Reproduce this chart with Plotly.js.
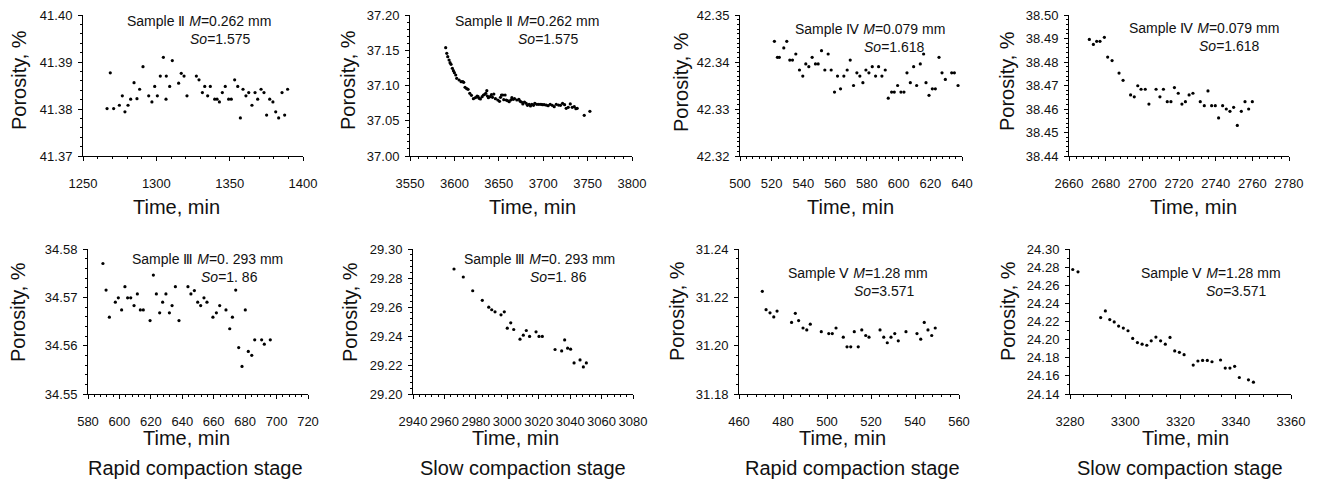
<!DOCTYPE html>
<html>
<head>
<meta charset="utf-8">
<script src="https://cdn.plot.ly/plotly-3.0.1.min.js"></script>
<style>html,body{margin:0;padding:0;background:#fff;}#chart{width:1320px;height:481px;}</style>
</head>
<body>
<div id="chart"></div>
<script>
// ---------- Data ----------
// Panel 1: Sample II, rapid compaction stage
var p1Time = [1266.4,1268.6,1270.9,1274.8,1276.8,1278.6,1280.7,1282.5,1284.8,1286.8,1288.6,1290.9,1294.8,1297.0,1298.9,1300.7,1302.7,1304.8,1306.6,1306.8,1309.1,1310.9,1315.2,1317.0,1318.9,1320.9,1327.3,1329.1,1331.4,1333.0,1335.0,1336.8,1339.8,1341.4,1343.0,1345.0,1347.0,1349.3,1351.1,1353.4,1355.5,1357.3,1359.1,1361.1,1363.0,1365.2,1367.3,1369.1,1371.4,1373.4,1375.2,1377.3,1379.5,1381.4,1383.4,1385.7,1387.5,1389.5];
var p1Porosity = [41.3801,41.3877,41.3801,41.3808,41.3828,41.3794,41.3808,41.3821,41.3856,41.3822,41.3842,41.3890,41.3828,41.3815,41.3848,41.3828,41.3870,41.3910,41.3821,41.3870,41.3848,41.3903,41.3855,41.3876,41.3870,41.3828,41.3870,41.3862,41.3835,41.3848,41.3828,41.3848,41.3821,41.3821,41.3815,41.3835,41.3848,41.3821,41.3821,41.3862,41.3848,41.3781,41.3842,41.3828,41.3835,41.3808,41.3835,41.3821,41.3842,41.3835,41.3787,41.3821,41.3815,41.3794,41.3781,41.3835,41.3787,41.3842];

// Panel 2: Sample II, slow compaction stage
var p2Time = [3590.2,3591.4,3592.5,3594.0,3595.1,3596.2,3597.7,3598.9,3600.0,3601.5,3602.6,3605.3,3607.5,3609.4,3610.5,3612.0,3613.9,3615.4,3617.3,3619.2,3621.4,3623.7,3625.6,3626.7,3627.8,3629.3,3631.2,3632.7,3634.2,3635.3,3636.5,3637.2,3638.3,3640.2,3641.7,3642.9,3644.4,3646.2,3648.9,3650.8,3651.9,3653.0,3654.5,3655.6,3657.1,3658.3,3659.8,3661.7,3663.5,3664.7,3666.2,3667.7,3670.3,3672.6,3674.1,3675.6,3677.1,3678.9,3680.8,3682.3,3684.2,3685.7,3687.2,3689.1,3690.6,3692.9,3695.1,3697.4,3699.2,3701.1,3703.4,3705.6,3707.9,3710.2,3712.4,3714.7,3717.3,3719.5,3721.8,3724.1,3725.9,3728.2,3730.5,3732.7,3735.0,3736.8,3738.3,3746.2,3752.6];
var p2Porosity = [37.1537,37.1456,37.1409,37.1362,37.1324,37.1300,37.1243,37.1210,37.1182,37.1149,37.1102,37.1078,37.1054,37.1054,37.1045,37.0974,37.0955,37.0946,37.0889,37.0861,37.0813,37.0827,37.0851,37.0842,37.0818,37.0809,37.0842,37.0865,37.0875,37.0889,37.0927,37.0851,37.0827,37.0842,37.0870,37.0832,37.0879,37.0813,37.0794,37.0775,37.0832,37.0865,37.0865,37.0799,37.0865,37.0794,37.0785,37.0771,37.0794,37.0827,37.0804,37.0813,37.0794,37.0804,37.0775,37.0766,37.0738,37.0766,37.0747,37.0719,37.0733,37.0709,37.0733,37.0719,37.0747,37.0733,37.0733,37.0733,37.0728,37.0728,37.0723,37.0714,37.0733,37.0719,37.0700,37.0733,37.0723,37.0719,37.0747,37.0728,37.0676,37.0690,37.0738,37.0690,37.0700,37.0671,37.0676,37.0577,37.0634];

// Panel 3: Sample IV, rapid compaction stage
var p3Time = [521.7,523.6,524.8,527.6,529.5,531.4,533.1,535.2,537.5,539.6,541.5,543.4,545.5,547.6,549.3,551.4,553.5,555.6,557.5,559.6,561.5,563.4,565.5,567.6,569.5,571.6,573.7,575.6,577.5,579.4,581.3,583.4,585.5,587.4,589.5,591.6,593.5,595.6,597.3,599.4,601.5,603.4,605.3,607.4,609.5,611.4,613.7,615.8,617.3,619.2,621.3,623.2,625.5,627.4,629.5,633.5,635.2,637.5];
var p3Porosity = [42.3444,42.3410,42.3410,42.3430,42.3444,42.3404,42.3404,42.3417,42.3383,42.3370,42.3396,42.3390,42.3410,42.3396,42.3396,42.3424,42.3383,42.3417,42.3383,42.3336,42.3370,42.3343,42.3370,42.3383,42.3404,42.3350,42.3377,42.3370,42.3356,42.3383,42.3377,42.3390,42.3370,42.3390,42.3370,42.3383,42.3323,42.3336,42.3336,42.3350,42.3336,42.3336,42.3377,42.3356,42.3390,42.3350,42.3396,42.3417,42.3356,42.3329,42.3343,42.3343,42.3410,42.3377,42.3363,42.3377,42.3377,42.3350];

// Panel 4: Sample IV, slow compaction stage
var p4Time = [2671.1,2673.3,2675.1,2676.9,2679.3,2681.1,2683.5,2687.3,2689.5,2693.6,2695.6,2697.5,2699.3,2701.6,2703.6,2707.5,2709.6,2711.5,2713.6,2715.6,2717.5,2719.6,2721.6,2723.5,2725.5,2727.6,2731.6,2733.8,2735.8,2737.8,2739.8,2741.6,2743.8,2745.8,2747.8,2749.8,2751.8,2754.0,2756.0,2758.0,2760.0];
var p4Porosity = [38.4896,38.4875,38.4888,38.4888,38.4905,38.4821,38.4806,38.4753,38.4722,38.4660,38.4652,38.4699,38.4684,38.4684,38.4621,38.4684,38.4652,38.4684,38.4631,38.4631,38.4691,38.4667,38.4621,38.4631,38.4660,38.4667,38.4631,38.4614,38.4677,38.4614,38.4614,38.4562,38.4614,38.4600,38.4590,38.4607,38.4530,38.4590,38.4631,38.4600,38.4631];

// Panel 5: Sample III, rapid compaction stage
var p5Time = [589.5,591.5,593.6,597.4,599.3,601.4,603.5,605.2,607.2,609.3,611.4,613.3,615.2,619.5,621.6,623.5,625.6,627.5,629.6,631.8,633.5,635.6,637.9,643.6,645.5,647.7,649.8,651.7,653.8,655.7,659.5,661.7,663.8,667.8,670.2,671.9,674.0,675.9,678.0,680.1,682.0,684.2,686.1,690.5,692.2,696.0];
var p5Porosity = [34.5770,34.5715,34.5659,34.5690,34.5699,34.5674,34.5722,34.5699,34.5699,34.5683,34.5707,34.5674,34.5674,34.5652,34.5746,34.5707,34.5668,34.5690,34.5707,34.5668,34.5683,34.5722,34.5652,34.5722,34.5707,34.5714,34.5690,34.5683,34.5699,34.5690,34.5659,34.5668,34.5683,34.5674,34.5635,34.5659,34.5715,34.5596,34.5557,34.5674,34.5588,34.5580,34.5612,34.5612,34.5603,34.5612];

// Panel 6: Sample III, slow compaction stage
var p6Time = [2966.1,2972.0,2978.0,2984.1,2988.2,2990.1,2992.2,2996.0,2998.1,3000.0,3002.2,3004.1,3008.1,3010.2,3012.1,3014.2,3018.3,3020.2,3022.3,3030.4,3034.6,3036.5,3038.4,3040.3,3042.5,3046.3,3048.4,3050.3];
var p6Porosity = [29.2862,29.2807,29.2712,29.2646,29.2599,29.2581,29.2567,29.2546,29.2567,29.2454,29.2491,29.2445,29.2378,29.2406,29.2438,29.2397,29.2429,29.2397,29.2397,29.2307,29.2297,29.2373,29.2316,29.2309,29.2214,29.2235,29.2187,29.2214];

// Panel 7: Sample V, rapid compaction stage
var p7Time = [470.6,472.3,474.1,475.8,477.3,483.9,485.6,487.1,489.1,490.8,492.4,497.4,500.8,502.4,504.1,507.4,509.1,510.8,512.4,514.2,515.8,517.6,519.1,524.1,525.8,527.4,529.1,530.8,532.4,535.9,540.9,542.6,544.2,545.9,547.6,549.2];
var p7Porosity = [31.2225,31.2149,31.2136,31.2119,31.2143,31.2096,31.2134,31.2104,31.2073,31.2065,31.2089,31.2058,31.2050,31.2050,31.2073,31.2035,31.1995,31.1995,31.2058,31.1995,31.2065,31.2042,31.2035,31.2065,31.2035,31.2012,31.2035,31.2050,31.2020,31.2058,31.2050,31.2027,31.2096,31.2065,31.2042,31.2073];

// Panel 8: Sample V, slow compaction stage
var p8Time = [3281.0,3282.9,3291.1,3292.8,3294.4,3296.0,3297.6,3299.3,3301.0,3302.7,3304.4,3306.1,3307.8,3309.4,3311.1,3312.8,3314.5,3316.2,3317.9,3319.6,3321.3,3324.6,3326.3,3328.0,3329.7,3331.4,3334.5,3336.2,3337.9,3339.6,3341.3,3344.6,3346.4];
var p8Porosity = [24.2774,24.2748,24.2243,24.2317,24.2221,24.2195,24.2150,24.2128,24.2098,24.2013,24.1968,24.1950,24.1938,24.1987,24.2028,24.1987,24.1950,24.2024,24.1875,24.1860,24.1834,24.1719,24.1764,24.1771,24.1771,24.1756,24.1775,24.1686,24.1686,24.1705,24.1582,24.1556,24.1530];

// Axis ranges and ticks
var xRanges = [[1250,1400],[3550,3800],[500,640],[2660,2780],[580,720],[2940,3080],[460,560],[3280,3360]];
var yRanges = [[41.37,41.40],[37.00,37.20],[42.32,42.35],[38.44,38.50],[34.55,34.58],[29.20,29.30],[31.18,31.24],[24.14,24.30]];
var xMajor = [50,50,20,20,20,20,20,20];
var xMinor = [10,10,4,4,4,4,4,5];
var yMajor = [0.01,0.05,0.01,0.01,0.01,0.02,0.02,0.02];
var yMinor = [0.002,0.01,0.001,0.002,0.002,0.004,0.004,0.01];

// Text
var sampleLine1 = ['Sample Ⅱ <i>M</i>=0.262 mm','Sample Ⅱ <i>M</i>=0.262 mm','Sample Ⅳ <i>M</i>=0.079 mm','Sample Ⅳ <i>M</i>=0.079 mm','Sample Ⅲ <i>M</i>=0. 293 mm','Sample Ⅲ <i>M</i>=0. 293 mm','Sample Ⅴ <i>M</i>=1.28 mm','Sample Ⅴ <i>M</i>=1.28 mm'];
var sampleLine2 = ['<i>So</i>=1.575','<i>So</i>=1.575','<i>So</i>=1.618','<i>So</i>=1.618','<i>So</i>=1. 86','<i>So</i>=1. 86','<i>So</i>=3.571','<i>So</i>=3.571'];
var stageLabels = ['Rapid compaction stage','Slow compaction stage','Rapid compaction stage','Slow compaction stage'];
var xTitle = 'Time, min';
var yTitle = 'Porosity, %';

// ---------- Layout geometry (pixels) ----------
var W = 1320, H = 481;
var plotBoxes = [ // [left, right, top, bottom]
  [83,303,15,156],[410,632,15,156],[740,962,15,156],[1069,1289,15,156],
  [88,308,249,394],[413,633,249,394],[739,959,249,394],[1070,1291,249,394]
];
// x centre of line 1, x centre of line 2, y boundary between the two lines
var noteX1 = [199,527,870,1204,208,539,858,1211];
var noteX2 = [220,548,894,1229,229,558,884,1236];
var noteSplit = [30,30,38,37,268,268,282,282];
var xTitlePos = [[176,207],[532,207],[850,207],[1193,207],[186,438],[515,438],[842,438],[1185,438]];
var yTitlePos = [[19,80],[348,80],[681,82],[1007,81],[18,312],[350,312],[677,311],[1008,311]];
var stagePos = [[195,468],[523,468],[852,468],[1180,468]];

var FONT = 'Liberation Sans, Arial, sans-serif';
var INK = '#111';

var times = [p1Time,p2Time,p3Time,p4Time,p5Time,p6Time,p7Time,p8Time];
var pors = [p1Porosity,p2Porosity,p3Porosity,p4Porosity,p5Porosity,p6Porosity,p7Porosity,p8Porosity];

var traces = [];
var layout = {
  width: W, height: H,
  margin: {l:0, r:0, t:0, b:0},
  paper_bgcolor: '#fff', plot_bgcolor: 'rgba(0,0,0,0)',
  showlegend: false,
  font: {family: FONT, color: INK},
  annotations: []
};

function px2x(p){ return p / W; }
function px2y(p){ return 1 - p / H; }
function ann(text, pos, size, angle, yanchor){
  return {text: text, x: px2x(pos[0]), y: px2y(pos[1]), xref: 'paper', yref: 'paper',
          xanchor: 'center', yanchor: yanchor || 'middle', showarrow: false, textangle: angle || 0,
          borderpad: 0,
          font: {family: FONT, size: size, color: INK}};
}

for (var i = 0; i < 8; i++) {
  var n = i + 1;
  var xa = 'x' + (n === 1 ? '' : n), ya = 'y' + (n === 1 ? '' : n);
  var xk = 'xaxis' + (n === 1 ? '' : n), yk = 'yaxis' + (n === 1 ? '' : n);
  var b = plotBoxes[i];
  var top = i < 4;
  traces.push({
    type: 'scatter', mode: 'markers', x: times[i], y: pors[i], xaxis: xa, yaxis: ya,
    marker: {color: '#000', size: 3.2}, cliponaxis: false, hoverinfo: 'x+y'
  });
  layout[xk] = {
    domain: [px2x(b[0]), px2x(b[1])], range: xRanges[i], anchor: ya,
    showline: true, linecolor: '#000', linewidth: 1, mirror: false,
    showgrid: false, zeroline: false,
    ticks: 'outside', ticklen: 4, tickwidth: 1, tickcolor: '#000',
    tick0: xRanges[i][0], dtick: xMajor[i],
    minor: {ticks: 'outside', ticklen: 2, tickcolor: '#000', tickwidth: 1, dtick: xMinor[i], tick0: xRanges[i][0], showgrid: false},
    tickfont: {family: FONT, size: 13, color: INK},
    ticklabelstandoff: top ? 11 : 9,
    fixedrange: true
  };
  layout[yk] = {
    domain: [px2y(b[3]), px2y(b[2])], range: yRanges[i], anchor: xa,
    showline: true, linecolor: '#000', linewidth: 1,
    showgrid: false, zeroline: false,
    ticks: 'outside', ticklen: 4, tickwidth: 1, tickcolor: '#000',
    tick0: yRanges[i][0], dtick: yMajor[i], tickformat: '.2f',
    minor: {ticks: 'outside', ticklen: 2, tickcolor: '#000', tickwidth: 1, dtick: yMinor[i], tick0: yRanges[i][0], showgrid: false},
    tickfont: {family: FONT, size: 13, color: INK},
    ticklabelstandoff: 3,
    fixedrange: true
  };
  layout.annotations.push(ann(sampleLine1[i], [noteX1[i], noteSplit[i]], 14, 0, 'bottom'));
  layout.annotations.push(ann(sampleLine2[i], [noteX2[i], noteSplit[i]], 14, 0, 'top'));
  layout.annotations.push(ann(xTitle, xTitlePos[i], 20));
  layout.annotations.push(ann(yTitle, yTitlePos[i], 20, -90));
}
for (var k = 0; k < 4; k++) {
  layout.annotations.push(ann(stageLabels[k], stagePos[k], 20));
}

Plotly.newPlot('chart', traces, layout, {staticPlot: true, displayModeBar: false});
</script>
</body>
</html>
